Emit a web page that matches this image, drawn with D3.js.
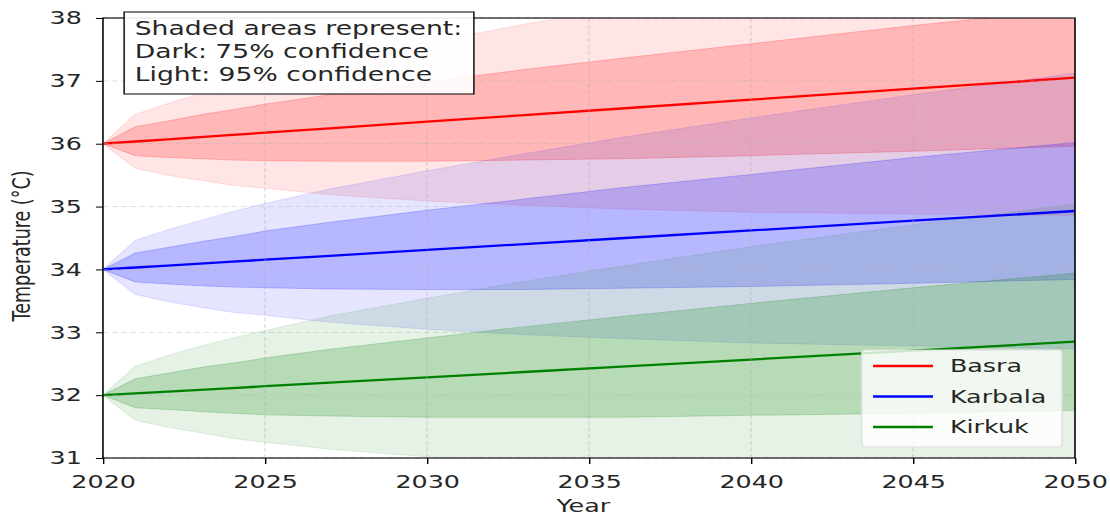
<!DOCTYPE html>
<html>
<head>
<meta charset="utf-8">
<script src="https://cdn.jsdelivr.net/npm/d3@7"></script>
<style>
  html, body { margin: 0; padding: 0; background: #fff; }
  svg { display: block; }
  text { font-family: "DejaVu Sans", sans-serif; fill: #262626; }
</style>
</head>
<body>
<svg id="chart"></svg>
<script>
// ---- data ----
const years = [2020, 2021, 2022, 2023, 2024, 2025, 2027, 2030, 2033, 2036, 2040, 2045, 2050];
const cities = ["Basra", "Karbala", "Kirkuk"];
const cityColors = ["red", "blue", "green"];

const basraMean = [36.00, 36.035, 36.07, 36.105, 36.14, 36.175, 36.245, 36.35, 36.455, 36.56, 36.70, 36.875, 37.05];
const basraLo75 = [36.00, 35.81, 35.78, 35.76, 35.74, 35.73, 35.72, 35.72, 35.74, 35.76, 35.81, 35.88, 35.96];
const basraHi75 = [36.00, 36.27, 36.36, 36.46, 36.54, 36.63, 36.78, 36.98, 37.18, 37.36, 37.59, 37.88, 38.14];
const basraLo95 = [36.00, 35.61, 35.50, 35.42, 35.34, 35.29, 35.19, 35.09, 35.02, 34.96, 34.91, 34.88, 34.86];
const basraHi95 = [36.00, 36.47, 36.64, 36.80, 36.94, 37.07, 37.31, 37.61, 37.90, 38.16, 38.49, 38.88, 39.24];

const karbalaMean = [34.00, 34.031, 34.062, 34.093, 34.124, 34.155, 34.217, 34.31, 34.403, 34.496, 34.62, 34.775, 34.93];
const karbalaLo75 = [34.00, 33.80, 33.77, 33.74, 33.72, 33.71, 33.69, 33.68, 33.68, 33.70, 33.73, 33.78, 33.84];
const karbalaHi75 = [34.00, 34.26, 34.35, 34.44, 34.52, 34.61, 34.75, 34.94, 35.12, 35.30, 35.51, 35.78, 36.02];
const karbalaLo95 = [34.00, 33.60, 33.49, 33.40, 33.32, 33.27, 33.16, 33.05, 32.96, 32.90, 32.83, 32.78, 32.74];
const karbalaHi95 = [34.00, 34.46, 34.63, 34.78, 34.92, 35.05, 35.28, 35.57, 35.84, 36.10, 36.41, 36.78, 37.12];

const kirkukMean = [32.00, 32.028, 32.057, 32.085, 32.113, 32.142, 32.198, 32.283, 32.368, 32.453, 32.566, 32.708, 32.85];
const kirkukLo75 = [32.00, 31.80, 31.77, 31.74, 31.71, 31.69, 31.67, 31.65, 31.65, 31.65, 31.68, 31.71, 31.76];
const kirkukHi75 = [32.00, 32.26, 32.35, 32.44, 32.51, 32.59, 32.73, 32.91, 33.09, 33.25, 33.46, 33.71, 33.94];
const kirkukLo95 = [32.00, 31.60, 31.49, 31.40, 31.31, 31.25, 31.14, 31.02, 30.93, 30.85, 30.78, 30.71, 30.66];
const kirkukHi95 = [32.00, 32.46, 32.63, 32.78, 32.91, 33.03, 33.26, 33.54, 33.81, 34.05, 34.36, 34.71, 35.04];

const xTicks = [2020, 2025, 2030, 2035, 2040, 2045, 2050];
const yTicks = [31, 32, 33, 34, 35, 36, 37, 38];
const noteLines = ["Shaded areas represent:", "Dark: 75% confidence", "Light: 95% confidence"];
const xLabel = "Year";
const yLabel = "Temperature (°C)";

const series = [
  { name: cities[0], color: cityColors[0], mean: basraMean, lo75: basraLo75, hi75: basraHi75, lo95: basraLo95, hi95: basraHi95 },
  { name: cities[1], color: cityColors[1], mean: karbalaMean, lo75: karbalaLo75, hi75: karbalaHi75, lo95: karbalaLo95, hi95: karbalaHi95 },
  { name: cities[2], color: cityColors[2], mean: kirkukMean, lo75: kirkukLo75, hi75: kirkukHi75, lo95: kirkukLo95, hi95: kirkukHi95 }
];

// ---- layout (picture is horizontally stretched) ----
const W = 1110, H = 515, K = 1.4104;
const VW = W / K;
const m = { left: 73, right: VW - 762.2, top: 18, bottom: H - 458 };

const svg = d3.select("#chart")
  .attr("width", W).attr("height", H)
  .attr("viewBox", `0 0 ${VW} ${H}`)
  .attr("preserveAspectRatio", "none");

const x = d3.scaleLinear().domain([2020, 2050]).range([m.left, VW - m.right]);
const y = d3.scaleLinear().domain([31, 38]).range([H - m.bottom, m.top]);

svg.append("defs").append("clipPath").attr("id", "clip")
  .append("rect").attr("x", x(2020)).attr("y", y(38))
  .attr("width", x(2050) - x(2020)).attr("height", y(31) - y(38));

const plot = svg.append("g").attr("clip-path", "url(#clip)");

// fills
series.forEach(s => {
  const idx = d3.range(years.length);
  const area95 = d3.area().x(i => x(years[i])).y0(i => y(s.lo95[i])).y1(i => y(s.hi95[i]));
  const area75 = d3.area().x(i => x(years[i])).y0(i => y(s.lo75[i])).y1(i => y(s.hi75[i]));
  plot.append("path").datum(idx).attr("d", area95)
    .attr("fill", s.color).attr("fill-opacity", 0.1)
    .attr("stroke", s.color).attr("stroke-opacity", 0.1).attr("stroke-width", 1);
  plot.append("path").datum(idx).attr("d", area75)
    .attr("fill", s.color).attr("fill-opacity", 0.2)
    .attr("stroke", s.color).attr("stroke-opacity", 0.2).attr("stroke-width", 1);
});

// grid
const grid = svg.append("g");
xTicks.forEach(t => grid.append("line")
  .attr("x1", x(t)).attr("x2", x(t)).attr("y1", y(31)).attr("y2", y(38))
  .attr("stroke", "#b0b0b0").attr("stroke-opacity", 0.5).attr("stroke-width", 0.8)
  .attr("stroke-dasharray", "4,2.5"));
yTicks.forEach(t => grid.append("line")
  .attr("x1", x(2020)).attr("x2", x(2050)).attr("y1", y(t)).attr("y2", y(t))
  .attr("stroke", "#b0b0b0").attr("stroke-opacity", 0.5).attr("stroke-width", 0.8)
  .attr("stroke-dasharray", "4,2.5"));

// mean lines
series.forEach(s => {
  const line = d3.line().x(i => x(years[i])).y(i => y(s.mean[i]));
  plot.append("path").datum(d3.range(years.length)).attr("d", line)
    .attr("fill", "none").attr("stroke", s.color).attr("stroke-width", 2.3);
});

// axes
const xAxis = svg.append("g").attr("transform", `translate(0,${y(31)})`)
  .call(d3.axisBottom(x).tickValues(xTicks).tickFormat(d => d).tickSize(6).tickPadding(11).tickSizeOuter(0));
const yAxis = svg.append("g").attr("transform", `translate(${x(2020)},0)`)
  .call(d3.axisLeft(y).tickValues(yTicks).tickFormat(d => d).tickSize(5).tickPadding(10).tickSizeOuter(0));
[xAxis, yAxis].forEach(a => {
  a.select(".domain").remove();
  a.selectAll(".tick line").attr("stroke", "#000").attr("stroke-width", 1);
  a.selectAll(".tick text").attr("font-size", 18).attr("fill", "#262626")
    .attr("font-family", "DejaVu Sans, sans-serif");
});

// spines
svg.append("rect").attr("x", x(2020)).attr("y", y(38))
  .attr("width", x(2050) - x(2020)).attr("height", y(31) - y(38))
  .attr("fill", "none").attr("stroke", "#000").attr("stroke-width", 1.1);

// axis labels
svg.append("text").attr("x", (x(2020) + x(2050)) / 2 - 4).attr("y", 512)
  .attr("text-anchor", "middle").attr("font-size", 18).text(xLabel);
svg.append("text").attr("transform", `translate(21,246) rotate(-90)`)
  .attr("text-anchor", "middle").attr("font-size", 17.5).text(yLabel);

// note box
const note = svg.append("g");
note.append("rect").attr("x", 88).attr("y", 12).attr("width", 248).attr("height", 82)
  .attr("fill", "#fff").attr("fill-opacity", 0.9).attr("stroke", "#000").attr("stroke-width", 1);
noteLines.forEach((t, i) => note.append("text").attr("x", 95.5).attr("y", 35 + i * 23.2)
  .attr("font-size", 18.9).text(t));

// legend
const leg = svg.append("g");
leg.append("rect").attr("x", 611).attr("y", 350).attr("width", 142).attr("height", 97)
  .attr("rx", 3).attr("ry", 3)
  .attr("fill", "#fff").attr("fill-opacity", 0.8).attr("stroke", "#dddddd").attr("stroke-width", 1);
series.forEach((s, i) => {
  const cy = 366 + i * 30.5;
  leg.append("line").attr("x1", 619).attr("x2", 661.5).attr("y1", cy).attr("y2", cy)
    .attr("stroke", s.color).attr("stroke-width", 2.3);
  leg.append("text").attr("x", 673.5).attr("y", cy + 6.5).attr("font-size", 18).text(s.name);
});
</script>
</body>
</html>
